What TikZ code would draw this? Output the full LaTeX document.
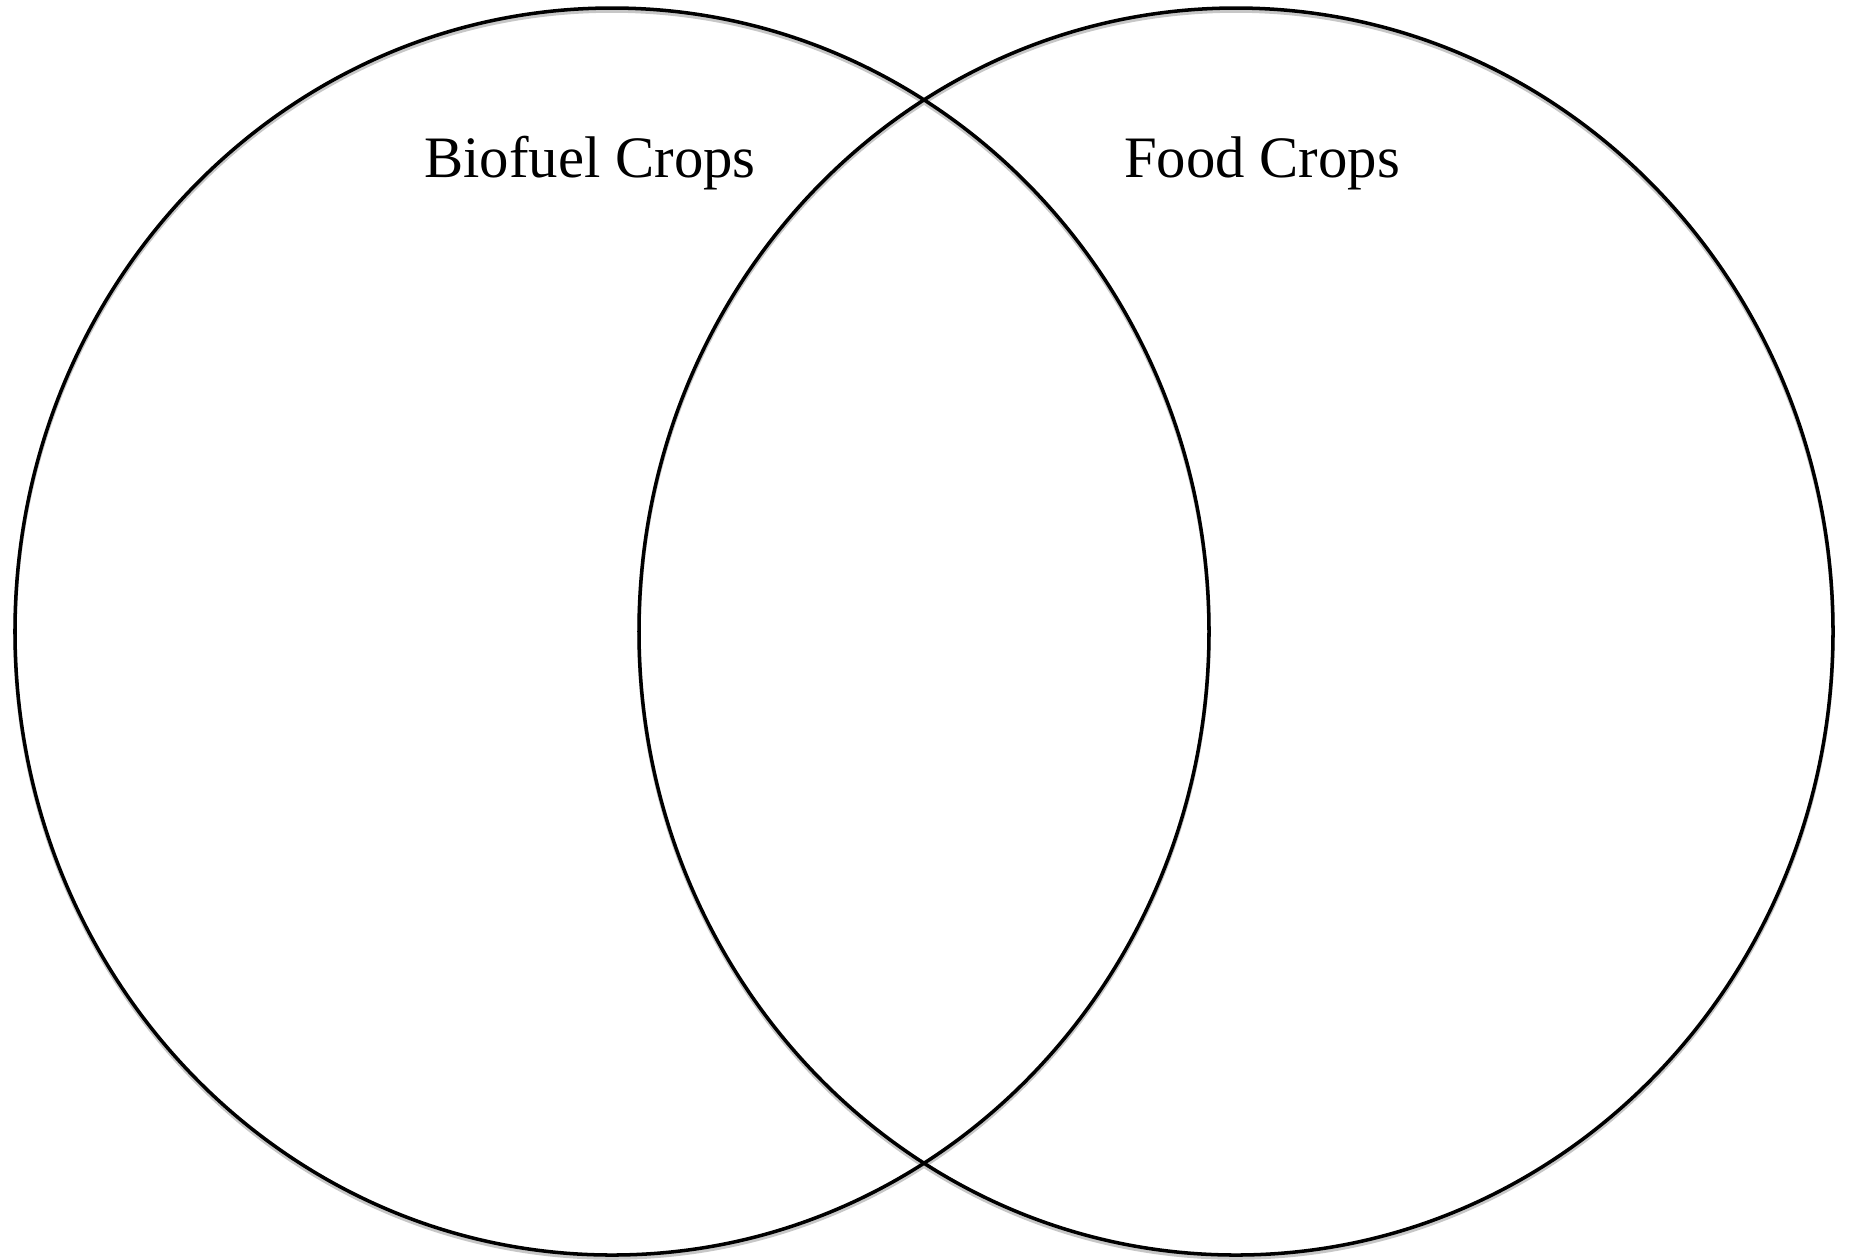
\documentclass[tikz,border=0pt]{standalone}
\usepackage{fontspec}
\setmainfont{Liberation Serif}
\begin{document}
\begin{tikzpicture}[x=0.01cm,y=-0.01cm]

\tikzset{setring/.style={draw=black,line width=1pt}}
\tikzset{ringshade/.style={draw=black!22,line width=1pt}}
\tikzset{title/.style={anchor=base,font=\fontsize{16.7}{20}\selectfont}}

\useasboundingbox (0,0) rectangle (1851,1259);

% shadows
\draw[ringshade] (612,634.5) ellipse [x radius=597,y radius=623.5];
\draw[ringshade] (1236,634.5) ellipse [x radius=597,y radius=623.5];

% circles
\draw[setring] (612,631.5) ellipse [x radius=597,y radius=623.5];
\draw[setring] (1236,631.5) ellipse [x radius=597,y radius=623.5];

\node[title] (bio) at (590,177) {Biofuel Crops};
\node[title] (food) at (1262,177) {Food Crops};

\end{tikzpicture}
\end{document}
